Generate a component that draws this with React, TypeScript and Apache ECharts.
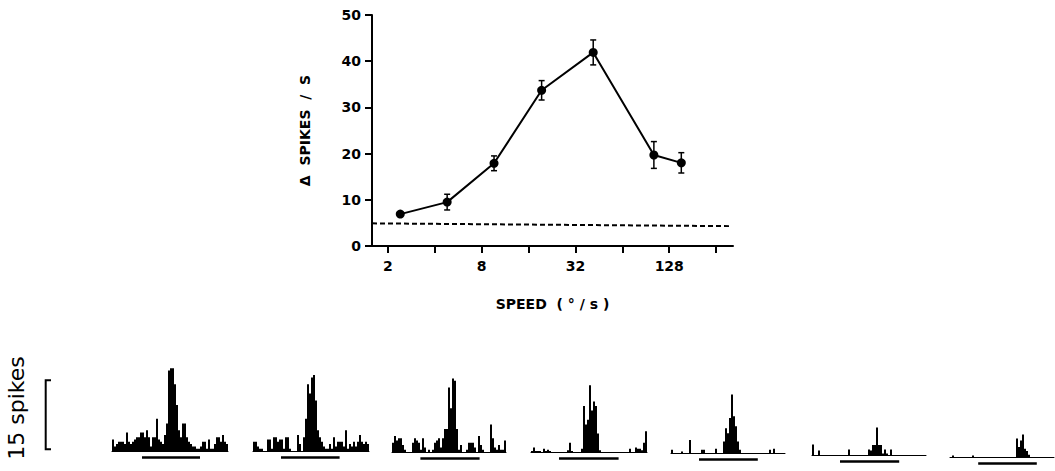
import React, { useEffect, useRef } from "react";
import * as echarts from "echarts";

// ---------- data: speed tuning curve ----------
const SPEEDS = [2.4, 4.8, 9.6, 19.4, 41.6, 102, 153]; // deg/s
const RESPONSE = [6.9, 9.5, 17.9, 33.7, 41.9, 19.7, 18.0]; // delta spikes/s
const SEM = [0.4, 1.7, 1.6, 2.1, 2.7, 2.9, 2.2];
const SPONT_SPEEDS = [1.58, 315];
const SPONT_LEVEL = [4.9, 4.3];
const X_TICKS = [2, 4, 8, 16, 32, 64, 128, 256];
const X_LABELS = [2, 8, 32, 128];
const Y_TICKS = [0, 10, 20, 30, 40, 50];

// ---------- data: peristimulus histograms (spikes per bin) ----------
const psth1 = [2.5, 1, 1.5, 2, 2, 2, 1.5, 4, 2, 1.5, 2, 2.5, 3, 3, 4, 4, 3, 4.5, 3, 1, 3, 3, 7, 2.5, 2, 1.5, 3.5, 6, 17.5, 18, 18, 14.5, 10, 4.5, 3, 6, 6, 3, 2, 1.5, 1, 1, 0.5, 0.5, 1, 2, 2, 0.5, 2.5, 0.5, 0.5, 1.5, 3, 3, 2, 3.5, 2, 1.5];
const psth2 = [2, 2, 1, 0.5, 0.5, 0, 0, 2.5, 2.5, 0.5, 3, 3, 2, 2.5, 2.5, 0.5, 3, 3, 0.5, 0, 0, 0, 3.5, 1.5, 0, 3, 7, 14.5, 12.5, 16, 16.5, 11, 4.5, 3, 2, 1, 0.5, 0.5, 1.5, 0.5, 3, 1, 2, 2, 2, 1, 4.5, 0.5, 1.5, 1, 2, 1, 2, 3.5, 2, 1.5, 2, 1.5];
const psth3 = [2, 3.5, 2.5, 3, 3, 1.5, 0.5, 0, 0, 0, 2, 3, 2.5, 2, 0.5, 3, 1, 0, 0.5, 0, 0.5, 2, 2.5, 3, 1, 3, 5, 5, 14, 9.5, 16, 15.5, 5, 0.5, 1.5, 0, 0, 0.5, 2, 2, 2, 1, 0, 3.5, 1.5, 0.5, 0, 0, 0, 6, 3, 1, 0.5, 1.5, 0.5, 0.5, 2.5];
const psth4 = [0.2, 1, 0.2, 0.2, 0.2, 0, 0.7, 0.2, 0.5, 0.2, 0, 0, 0, 0, 0, 0, 0, 0, 0.4, 2, 0.2, 0, 0, 0, 0, 0.7, 10, 6, 7, 14.5, 9, 11, 10, 4, 0.4, 0, 0, 0, 0, 0, 0, 0, 0, 0, 0, 0, 0, 0, 0, 0.7, 0, 0, 1, 0.7, 0.7, 0.4, 2, 4.5];
const psth5 = [0.7, 0, 0, 0, 0, 0.3, 0, 0, 0, 2.8, 0, 0, 0, 0, 0, 0.7, 0.7, 0, 0, 0, 0, 0, 0.9, 0, 0, 0, 2.5, 5.4, 4.3, 7.6, 12.7, 8, 5.8, 2.5, 0.7, 0, 0, 0, 0, 0, 0, 0, 0, 0, 0, 0, 0, 0, 0, 0.7, 0, 0.9, 0, 0, 0, 0, 0];
const psth6 = [2.3, 0, 0, 1, 0, 0, 0, 0, 0, 0, 0, 0, 0, 0, 0, 0, 0, 0, 1.2, 0, 0, 0, 0, 0, 0, 0, 0, 0, 1.2, 1, 2.2, 2.2, 6, 2.2, 2.2, 0.3, 1.2, 0.3, 0, 1.2, 0, 0, 0, 0, 0, 0, 0, 0, 0, 0, 0, 0, 0, 0, 0, 0, 0];
const psth7 = [0, 0.3, 0, 0, 0, 0, 0, 0, 0, 0, 0, 0.3, 0, 0, 0, 0, 0, 0, 0, 0, 0, 0, 0, 0, 0, 0, 0, 0, 0, 0, 0, 0, 0, 4, 2.2, 3.6, 4.9, 1.8, 1.3, 0.5, 0, 0, 0, 0, 0, 0, 0, 0, 0, 0, 0, 0];
const PSTHS = [psth1, psth2, psth3, psth4, psth5, psth6, psth7];
const STIM_ON = [15, 14, 14.2, 14, 14, 14, 14.1]; // bins
const STIM_OFF = [44, 43.3, 43.8, 43.8, 43.4, 43.6, 43.4];
const SCALE_SPIKES = 15;

// ---------- layout ----------
const PX_PER_SPIKE = 4.6;
const BIN_PX = 2;
const PANEL_LEFT = [112, 253, 392, 531, 671, 812, 950];
const PANEL_BASE = [451, 451, 452, 452, 453, 455, 457];
const H_MAX = 20;
const H_MIN = -1.5;
const STIM_Y = -1.4;

const FONT = "DejaVu Sans";

export default function App() {
  const ref = useRef<HTMLDivElement>(null);

  useEffect(() => {
    document.body.style.margin = "0";
    if (!ref.current) return;
    const chart = echarts.init(ref.current, undefined, { renderer: "svg" });

    const log2 = (v: number) => Math.log2(v);

    const grids: any[] = [{ left: 372, top: 15, width: 361, height: 231 }];
    const xAxes: any[] = [
      {
        type: "value",
        gridIndex: 0,
        min: 0.66,
        max: 8.36,
        axisLine: { show: true, onZero: false, lineStyle: { color: "#000", width: 2 } },
        axisTick: {
          show: true,
          customValues: X_TICKS.map(log2),
          length: 7,
          lineStyle: { color: "#000", width: 2 },
        },
        axisLabel: {
          customValues: X_LABELS.map(log2),
          formatter: (v: number) => String(Math.round(Math.pow(2, v))),
          margin: 13,
          color: "#000",
          fontFamily: FONT,
          fontWeight: "bold",
          fontSize: 14,
        },
        splitLine: { show: false },
        name: "SPEED  ( ° / s )",
        nameLocation: "middle",
        nameGap: 51,
        nameTextStyle: { color: "#000", fontFamily: FONT, fontWeight: "bold", fontSize: 14 },
      },
    ];
    const yAxes: any[] = [
      {
        type: "value",
        gridIndex: 0,
        min: Y_TICKS[0],
        max: Y_TICKS[Y_TICKS.length - 1],
        interval: 10,
        axisLine: { show: true, lineStyle: { color: "#000", width: 2 } },
        axisTick: { show: true, length: 7, lineStyle: { color: "#000", width: 2 } },
        axisLabel: {
          margin: 11,
          color: "#000",
          fontFamily: FONT,
          fontWeight: "bold",
          fontSize: 14,
        },
        splitLine: { show: false },
        name: "Δ  SPIKES  /  S",
        nameLocation: "middle",
        nameGap: 60,
        nameRotate: 90,
        nameTextStyle: { color: "#000", fontFamily: FONT, fontWeight: "bold", fontSize: 14 },
      },
    ];

    const series: any[] = [
      {
        type: "line",
        xAxisIndex: 0,
        yAxisIndex: 0,
        data: SPONT_SPEEDS.map((s, i) => [log2(s), SPONT_LEVEL[i]]),
        symbol: "none",
        lineStyle: { color: "#000", width: 2, type: [5, 3] },
        z: 2,
      },
      {
        type: "custom",
        xAxisIndex: 0,
        yAxisIndex: 0,
        data: SPEEDS.map((s, i) => [log2(s), RESPONSE[i] - SEM[i], RESPONSE[i] + SEM[i]]),
        encode: { x: 0, y: [1, 2] },
        renderItem: (params: any, api: any) => {
          const x = api.value(0);
          const lo = api.coord([x, api.value(1)]);
          const hi = api.coord([x, api.value(2)]);
          const w = 3;
          const st = { stroke: "#000", lineWidth: 1.5 };
          return {
            type: "group",
            children: [
              { type: "line", shape: { x1: lo[0], y1: lo[1], x2: hi[0], y2: hi[1] }, style: st },
              { type: "line", shape: { x1: lo[0] - w, y1: lo[1], x2: lo[0] + w, y2: lo[1] }, style: st },
              { type: "line", shape: { x1: hi[0] - w, y1: hi[1], x2: hi[0] + w, y2: hi[1] }, style: st },
            ],
          };
        },
        z: 3,
      },
      {
        type: "line",
        xAxisIndex: 0,
        yAxisIndex: 0,
        data: SPEEDS.map((s, i) => [log2(s), RESPONSE[i]]),
        symbol: "circle",
        symbolSize: 9,
        itemStyle: { color: "#000" },
        lineStyle: { color: "#000", width: 2 },
        z: 4,
      },
    ];

    PSTHS.forEach((arr, k) => {
      const gi = k + 1;
      grids.push({
        left: PANEL_LEFT[k],
        top: PANEL_BASE[k] - H_MAX * PX_PER_SPIKE,
        width: arr.length * BIN_PX,
        height: (H_MAX - H_MIN) * PX_PER_SPIKE,
      });
      xAxes.push({
        type: "value",
        gridIndex: gi,
        min: 0,
        max: arr.length,
        axisLine: { show: true, onZero: true, lineStyle: { color: "#000", width: 1 } },
        axisTick: { show: false },
        axisLabel: { show: false },
        splitLine: { show: false },
      });
      yAxes.push({
        type: "value",
        gridIndex: gi,
        min: H_MIN,
        max: H_MAX,
        show: false,
        splitLine: { show: false },
      });
      series.push({
        type: "bar",
        xAxisIndex: gi,
        yAxisIndex: gi,
        data: arr.map((v, i) => [i + 0.5, v]),
        barWidth: 2,
        itemStyle: { color: "#000" },
      });
      series.push({
        type: "line",
        xAxisIndex: gi,
        yAxisIndex: gi,
        data: [
          [STIM_ON[k], STIM_Y],
          [STIM_OFF[k], STIM_Y],
        ],
        symbol: "none",
        lineStyle: { color: "#000", width: 2.5 },
      });
    });

    const scaleBottom = 449.3;
    const scaleTop = scaleBottom - SCALE_SPIKES * PX_PER_SPIKE;

    chart.setOption({
      animation: false,
      backgroundColor: "#fff",
      textStyle: { fontFamily: FONT },
      grid: grids,
      xAxis: xAxes,
      yAxis: yAxes,
      series,
      graphic: [
        {
          type: "polyline",
          shape: {
            points: [
              [51, scaleTop],
              [45.7, scaleTop],
              [45.7, scaleBottom],
              [51, scaleBottom],
            ],
          },
          style: { stroke: "#000", lineWidth: 2, fill: "none" },
        },
        {
          type: "text",
          x: 16,
          y: 408,
          rotation: Math.PI / 2,
          style: {
            text: `${SCALE_SPIKES} spikes`,
            font: `22px "${FONT}"`,
            fill: "#000",
            align: "center",
            verticalAlign: "middle",
          },
        },
      ],
    });

    return () => chart.dispose();
  }, []);

  return <div ref={ref} style={{ width: 1055, height: 471 }} />;
}
